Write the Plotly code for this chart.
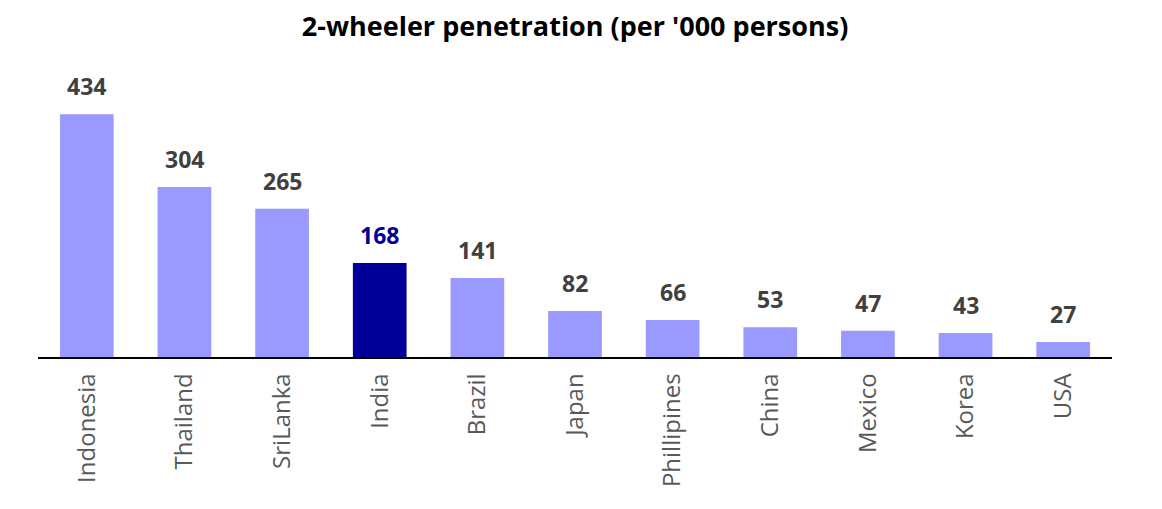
import plotly.graph_objects as go

countries = ["Indonesia", "Thailand", "SriLanka", "India", "Brazil", "Japan",
             "Phillipines", "China", "Mexico", "Korea", "USA"]
values = [434, 304, 265, 168, 141, 82, 66, 53, 47, 43, 27]
highlight = "India"

light = "#9999FF"
dark = "#000099"
colors = [dark if c == highlight else light for c in countries]
label_colors = [dark if c == highlight else "#404040" for c in countries]

fig = go.Figure()
fig.add_trace(go.Bar(x=countries, y=values, marker=dict(color=colors, line=dict(width=0)),
                     hoverinfo="x+y"))

for c, v, lc in zip(countries, values, label_colors):
    fig.add_annotation(x=c, y=v, text=f"<b>{v}</b>", showarrow=False,
                       yanchor="bottom", yshift=10,
                       font=dict(family="Open Sans, sans-serif", size=23, color=lc))

fig.update_layout(
    width=1162, height=509,
    margin=dict(l=30, r=58, t=72, b=160, autoexpand=False),
    paper_bgcolor="white", plot_bgcolor="white",
    bargap=0.45,
    showlegend=False,
    title=dict(text="<b>2-wheeler penetration (per '000 persons)</b>",
               x=0.488, xanchor="center", y=0.964, yanchor="middle",
               font=dict(family="Open Sans, sans-serif", size=27, color="#000000")),
)
fig.update_xaxes(showline=True, linecolor="#000000", linewidth=1.5,
                 tickangle=-90, ticks="", ticklabelstandoff=5, automargin=False,
                 tickfont=dict(family="Open Sans, sans-serif", size=24, color="#595959"),
                 showgrid=False)
fig.update_yaxes(range=[0, 495], visible=False, showgrid=False, automargin=False)

fig.write_html("out.html")
